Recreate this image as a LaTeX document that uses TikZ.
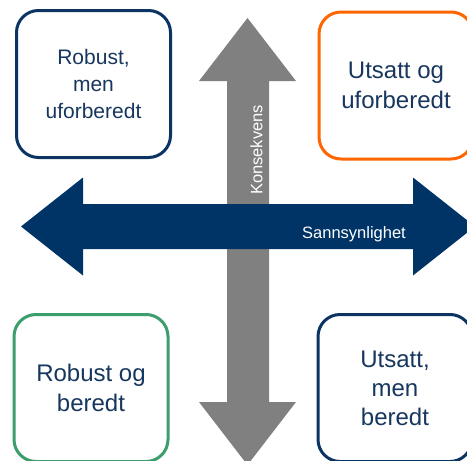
\documentclass[tikz,border=0pt]{standalone}
\usepackage{fontspec}
\setmainfont{Liberation Sans}
\usetikzlibrary{positioning}
\definecolor{arrowblue}{RGB}{0,52,102}
\definecolor{textblue}{RGB}{23,55,94}
\definecolor{boxblue}{RGB}{12,52,98}
\definecolor{riskorange}{RGB}{255,102,0}
\definecolor{safegreen}{RGB}{60,158,108}
\definecolor{axisgrey}{RGB}{128,128,128}
\tikzset{
  quadbox/.style={draw, rounded corners=22pt, line width=3pt, fill=white,
    minimum width=154pt, minimum height=147pt, inner sep=0pt,
    text=textblue, align=center},
  axislabel/.style={text=white, inner sep=0pt, font=\fontsize{16.5}{20}\selectfont},
}

\begin{document}
\begin{tikzpicture}[x=1pt,y=-1pt]
  \useasboundingbox (0,0) rectangle (467,461);

  % Konsekvens axis
  \fill[axisgrey] (247.5,18) -- (296,81) -- (269,81) -- (269,402) -- (296,402)
    -- (247.5,465) -- (199,402) -- (227,402) -- (227,81) -- (199,81) -- cycle;
  % Sannsynlighet axis
  \fill[arrowblue] (21,226.5) -- (83,177.5) -- (83,204) -- (413,204) -- (413,177.5)
    -- (475,226.5) -- (413,275.5) -- (413,249) -- (83,249) -- (83,275.5) -- cycle;

  \node[axislabel, rotate=90] (kons) at (256.5,150) {Konsekvens};
  \node[axislabel] (sann) at (354,234) {Sannsynlighet};

  \node[quadbox, draw=boxblue, font=\fontsize{21}{27}\selectfont] (robustmen) at (93.5,84)
    {Robust,\\men\\uforberedt};
  \node[quadbox, draw=riskorange, font=\fontsize{24}{30}\selectfont] (utsattog) at (396,85.5)
    {Utsatt og\\uforberedt};
  \node[quadbox, draw=safegreen, font=\fontsize{24}{30}\selectfont] (robustog) at (91,388)
    {Robust og\\beredt};
  \node[quadbox, draw=boxblue, font=\fontsize{24}{29}\selectfont] (utsattmen) at (395,388)
    {Utsatt,\\men\\beredt};
\end{tikzpicture}
\end{document}
